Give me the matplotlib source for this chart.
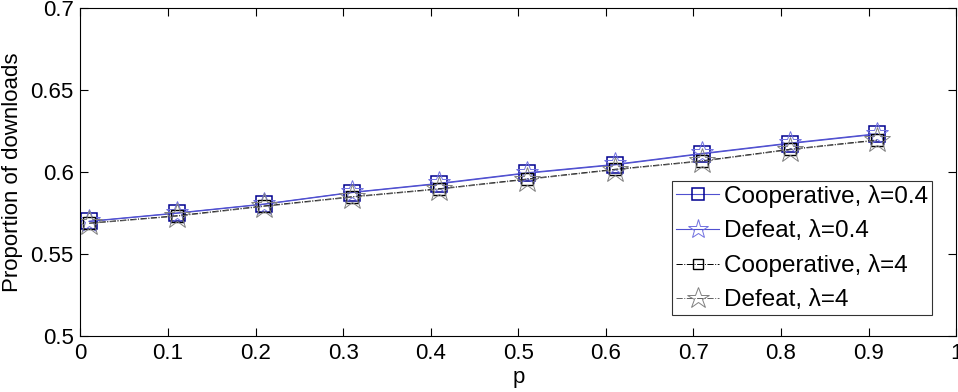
import numpy as np
import matplotlib.pyplot as plt

plt.rcParams['font.family'] = ['Liberation Sans', 'DejaVu Sans']

p = [0.01, 0.11, 0.21, 0.31, 0.41, 0.51, 0.61, 0.71, 0.81, 0.91]
coop_04 = [0.570, 0.575, 0.5805, 0.5876, 0.593, 0.5994, 0.6045, 0.6112, 0.6175, 0.6232]
defeat_04 = [0.5702, 0.5752, 0.5807, 0.5878, 0.5933, 0.5997, 0.6048, 0.6115, 0.6178, 0.6235]
coop_4 = [0.569, 0.5735, 0.5795, 0.5851, 0.590, 0.5959, 0.6018, 0.607, 0.614, 0.6197]
defeat_4 = [0.5688, 0.5732, 0.5792, 0.5848, 0.5897, 0.5956, 0.6015, 0.6067, 0.6137, 0.6194]

fig = plt.figure(figsize=(9.58, 3.92), dpi=100)
ax = fig.add_axes([0.084, 0.142, 0.914, 0.837])

ax.plot(p, coop_04, '-', color='#5050d0', lw=0.8, marker='s', ms=11,
        mfc='none', mec='#000090', mew=1.1, label='Cooperative, λ=0.4')
ax.plot(p, defeat_04, '-', color='#5050d0', lw=0.8, marker='*', ms=17,
        mfc='none', mec='#7070e0', mew=0.7, label='Defeat, λ=0.4')
ax.plot(p, coop_4, '-.', color='black', lw=0.7, marker='s', ms=8,
        mfc='none', mec='black', mew=1.0, label='Cooperative, λ=4')
ax.plot(p, defeat_4, '-.', color='#606060', lw=0.7, marker='*', ms=19,
        mfc='none', mec='#808080', mew=0.7, label='Defeat, λ=4')

ax.set_xlim(0, 1)
ax.set_ylim(0.5, 0.7)
ax.set_xticks(np.arange(0, 1.01, 0.1))
ax.set_xticklabels(['0', '0.1', '0.2', '0.3', '0.4', '0.5', '0.6', '0.7', '0.8', '0.9', '1'])
ax.set_yticks([0.5, 0.55, 0.6, 0.65, 0.7])
ax.set_yticklabels(['0.5', '0.55', '0.6', '0.65', '0.7'])
ax.tick_params(direction='in', top=True, right=True, length=6, labelsize=16, pad=5)
for s in ax.spines.values():
    s.set_linewidth(0.8)

ax.set_xlabel('p', fontsize=16, labelpad=2)
ax.set_ylabel('Proportion of downloads', fontsize=16, labelpad=5)

leg = ax.legend(loc='lower right', bbox_to_anchor=(0.9726, 0.065), fontsize=17.5,
                frameon=True, fancybox=False, edgecolor='black',
                handlelength=1.8, handletextpad=0.2, borderpad=0.15,
                labelspacing=0.5, borderaxespad=0, markerscale=0.85)
leg.get_frame().set_linewidth(0.8)

fig.savefig('out.png', dpi=100)
